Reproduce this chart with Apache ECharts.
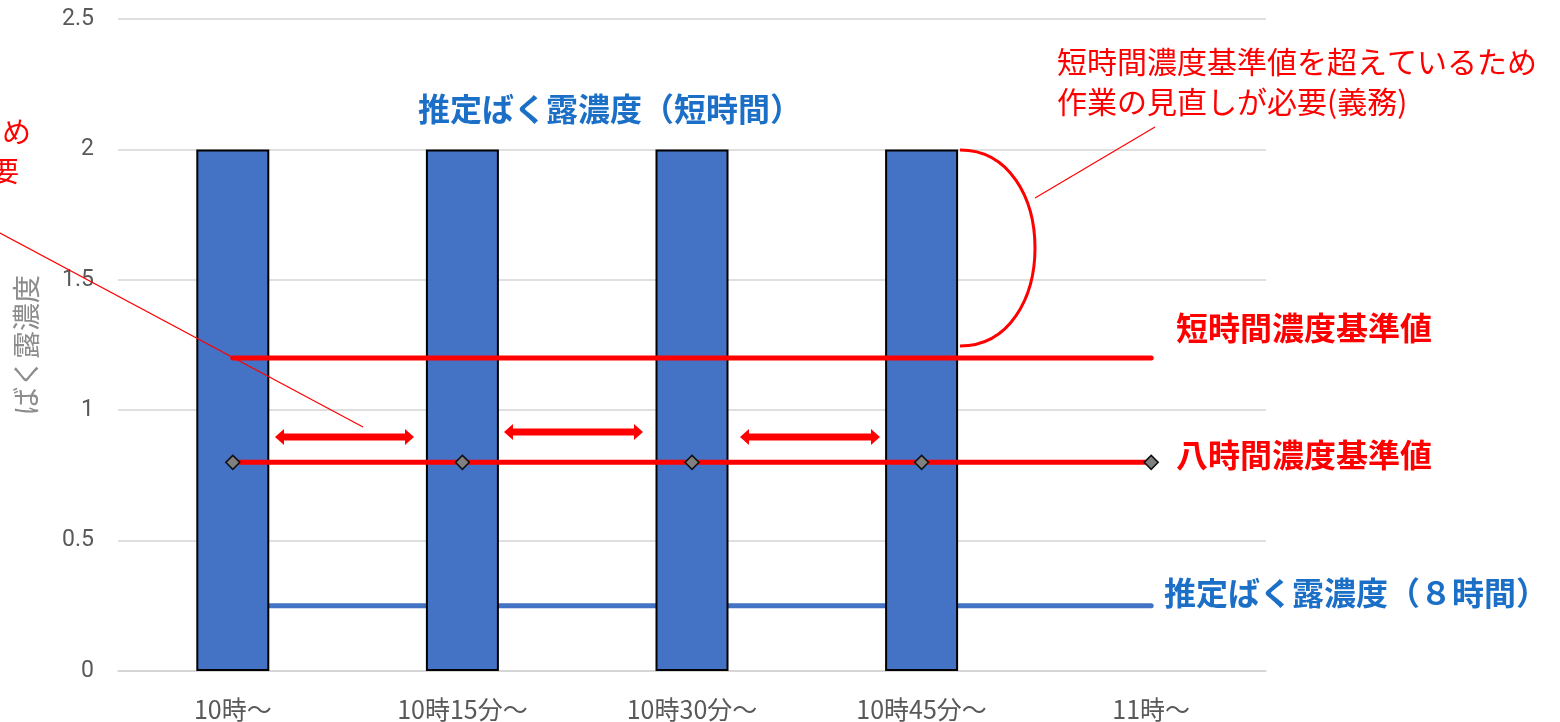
<!DOCTYPE html>
<html>
<head>
<meta charset="utf-8">
<script src="https://cdn.jsdelivr.net/npm/echarts@6/dist/echarts.min.js"></script>
<style>
  html, body { margin: 0; padding: 0; background: #fff; }
  #chart { width: 1560px; height: 722px; }
</style>
</head>
<body>
<div id="chart"></div>
<script>
// 時間帯
const categories = ['10時～', '10時15分～', '10時30分～', '10時45分～', '11時～'];
// 推定ばく露濃度（短時間）
const shortExposure = [2, 2, 2, 2, null];
// 短時間濃度基準値
const shortLimit = [1.2, 1.2, 1.2, 1.2, 1.2];
// 八時間濃度基準値
const eightLimit = [0.8, 0.8, 0.8, 0.8, 0.8];
// 推定ばく露濃度（８時間）
const eightExposure = [0.25, 0.25, 0.25, 0.25, 0.25];
const yTicks = { min: 0, max: 2.5, interval: 0.5 };

const RED = '#ff0000';
const BLUE = '#4472c4';
const TEXT_BLUE = '#1b6fc6';
const JP = '"Noto Sans CJK JP", "Noto Sans", sans-serif';

// 両矢印
function arrow(x1, x2, y) {
  const h = 3.5, head = 9, hh = 8;
  return {
    type: 'polygon',
    z: 100,
    shape: {
      points: [
        [x1, y], [x1 + head, y - hh], [x1 + head, y - h], [x2 - head, y - h],
        [x2 - head, y - hh], [x2, y], [x2 - head, y + hh], [x2 - head, y + h],
        [x1 + head, y + h], [x1 + head, y + hh]
      ]
    },
    style: { fill: RED }
  };
}

function label(text, x, y, size, color, weight, align) {
  return {
    type: 'text', x: x, y: y, z: 100,
    style: {
      text: text, fill: color, font: (weight || 'normal') + ' ' + size + 'px ' + JP,
      textAlign: align || 'left', textVerticalAlign: 'middle'
    }
  };
}

const chart = echarts.init(document.getElementById('chart'));
chart.setOption({
  animation: false,
  grid: { left: 118, right: 294, top: 19, bottom: 51, containLabel: false, outerBoundsMode: 'none' },
  xAxis: {
    type: 'category',
    data: categories,
    axisLine: { lineStyle: { color: '#d4d4d4', width: 1.5 } },
    axisTick: { show: false },
    axisLabel: { color: '#595959', fontSize: 25, fontFamily: JP, margin: 26 }
  },
  yAxis: {
    type: 'value',
    min: yTicks.min, max: yTicks.max, interval: yTicks.interval,
    name: 'ばく露濃度',
    nameLocation: 'middle',
    nameGap: 78,
    nameRotate: 90,
    nameTextStyle: { color: '#8c8c8c', fontSize: 28, fontFamily: JP },
    axisLine: { show: false },
    axisTick: { show: false },
    axisLabel: { color: '#595959', fontSize: 23, fontFamily: 'Roboto, sans-serif', margin: 24 },
    splitLine: { lineStyle: { color: '#d4d4d4', width: 1.5 } }
  },
  series: [
    {
      name: '推定ばく露濃度（８時間）',
      type: 'line',
      data: eightExposure,
      z: 1,
      symbol: 'none',
      lineStyle: { color: BLUE, width: 5, cap: 'round' }
    },
    {
      name: '推定ばく露濃度（短時間）',
      type: 'bar',
      data: shortExposure,
      z: 2,
      barWidth: 73,
      itemStyle: { color: BLUE, borderColor: '#000', borderWidth: 2 }
    },
    {
      name: '短時間濃度基準値',
      type: 'line',
      data: shortLimit,
      z: 3,
      symbol: 'none',
      lineStyle: { color: RED, width: 5, cap: 'round' }
    },
    {
      name: '八時間濃度基準値',
      type: 'line',
      data: eightLimit,
      z: 4,
      symbol: 'diamond',
      symbolSize: 14,
      itemStyle: { color: '#808080', borderColor: '#111', borderWidth: 1.5 },
      lineStyle: { color: RED, width: 5 }
    }
  ],
  graphic: [
    label('推定ばく露濃度（短時間）', 418, 109, 32, TEXT_BLUE, 'bold'),
    label('短時間濃度基準値', 1176, 328, 32, RED, 'bold'),
    label('八時間濃度基準値', 1176, 455, 32, RED, 'bold'),
    label('推定ばく露濃度（８時間）', 1164, 593, 32, TEXT_BLUE, 'bold'),
    label('短時間濃度基準値を超えているため', 1057, 62, 30, RED),
    label('作業の見直しが必要(義務)', 1057, 102, 30, RED),
    label('八時間濃度基準値を超えているため', 31, 132, 29, RED, 'normal', 'right'),
    label('作業の見直しが必要', 19, 171, 28, RED, 'normal', 'right'),
    {
      type: 'line', z: 100,
      shape: { x1: 0, y1: 233, x2: 363, y2: 427 },
      style: { stroke: RED, lineWidth: 1.2 }
    },
    {
      type: 'line', z: 100,
      shape: { x1: 1155, y1: 127, x2: 1035, y2: 198 },
      style: { stroke: RED, lineWidth: 1.2 }
    },
    {
      type: 'bezierCurve', z: 100,
      shape: { x1: 960, y1: 150, cpx1: 1060, cpy1: 150, cpx2: 1060, cpy2: 346, x2: 960, y2: 346 },
      style: { stroke: RED, lineWidth: 3, fill: 'none' }
    },
    arrow(275, 414, 437),
    arrow(504, 643, 432),
    arrow(740, 880, 437)
  ]
});
</script>
</body>
</html>
